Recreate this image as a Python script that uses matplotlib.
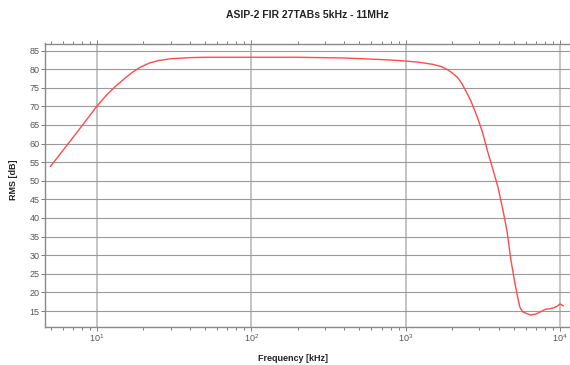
import numpy as np
import matplotlib
matplotlib.use("Agg")
import matplotlib.pyplot as plt
from matplotlib.ticker import LogLocator, NullFormatter

freq_khz = [5.0, 6.0, 7.0, 8.0, 9.0, 10.0, 11.5, 13.1, 15.0, 17.0, 19.0, 22.0, 25.0, 30.0,
            40.0, 50.0, 100.0, 200.0, 400.0, 686.0, 925.0, 1200.0, 1500.0, 1700.0, 1862.0,
            2000.0, 2163.0, 2300.0, 2450.0, 2637.0, 2912.0, 3150.0, 3381.0, 3650.0,
            3963.0, 4250.0, 4528.0, 4808.0, 5100.0, 5311.0, 5500.0, 5720.0, 6100.0,
            6460.0, 7000.0, 7500.0, 8070.0, 8600.0, 9140.0, 9600.0, 10000.0, 10500.0]
rms_db = [53.9, 58.1, 61.7, 64.8, 67.6, 70.1, 73.0, 75.3, 77.4, 79.2, 80.5, 81.7, 82.3, 82.8,
          83.1, 83.2, 83.2, 83.2, 83.0, 82.6, 82.3, 81.9, 81.3, 80.7, 79.9,
          79.0, 77.8, 76.3, 74.2, 71.6, 67.1, 63.0, 58.2, 53.5,
          48.3, 42.5, 36.7, 28.7, 22.5, 18.8, 16.0, 14.8, 14.3,
          13.9, 14.2, 14.8, 15.5, 15.6, 15.9, 16.3, 16.9, 16.4]
y_ticks = [15, 20, 25, 30, 35, 40, 45, 50, 55, 60, 65, 70, 75, 80, 85]

plt.rcParams['font.family'] = ['Liberation Sans', 'DejaVu Sans']
fig = plt.figure(figsize=(5.7, 3.65), dpi=100)
ax = fig.add_axes([45/570, 1-327/365, 1-45/570, (327-43.5)/365])

ax.plot(freq_khz, rms_db, color='#ff4a4a', lw=1.0, zorder=3)
ax.set_xscale('log')
ax.set_xlim(10**(1-52/154.3), 10**(4+10/154.3))
ax.set_ylim(10.7, 86.9)
ax.set_yticks(y_ticks)
ax.xaxis.set_major_locator(LogLocator(base=10, numticks=10))
ax.xaxis.set_minor_locator(LogLocator(base=10, subs=np.arange(2, 10), numticks=20))
ax.xaxis.set_minor_formatter(NullFormatter())

ax.grid(True, which='major', axis='y', color='#9a9a9a', lw=0.8)
ax.grid(True, which='major', axis='x', color='#c4c4c4', lw=1.4)
ax.set_axisbelow(True)

for s in ['left', 'bottom', 'top']:
    ax.spines[s].set_color('#8a8a8a')
    ax.spines[s].set_linewidth(1.0)
ax.spines['right'].set_visible(False)

ax.tick_params(axis='both', which='both', direction='out', colors='#7a7a7a',
               labelcolor='#555555', labelsize=6.5, width=0.7)
ax.tick_params(axis='x', which='both', top=True, bottom=True)
ax.tick_params(axis='x', which='major', length=3, pad=1)
ax.tick_params(axis='x', which='minor', length=2)
ax.tick_params(axis='y', which='major', length=3, pad=1)

ax.set_title('ASIP-2 FIR 27TABs 5kHz - 11MHz', fontsize=7.5, fontweight='bold',
             color='#222222', pad=18)
ax.set_xlabel('Frequency [kHz]', fontsize=6.5, fontweight='bold', color='#222222')
ax.set_ylabel('RMS [dB]', fontsize=6.5, fontweight='bold', color='#222222')
ax.xaxis.set_label_coords((293 - 45) / 525, -(354 - 327) / 283.5)
ax.yaxis.set_label_coords(-(45 - 18) / 525, (327 - 180) / 283.5)

fig.savefig('out.png', dpi=100)
